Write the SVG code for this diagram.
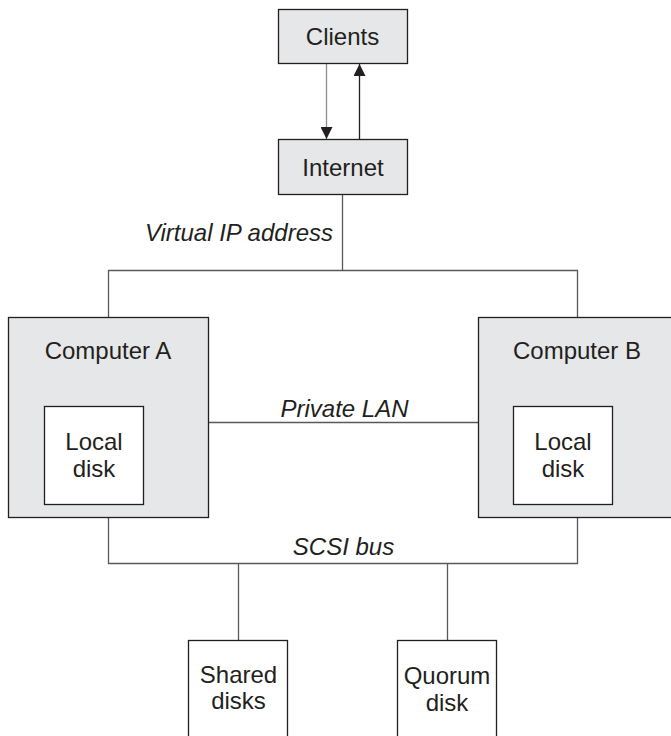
<svg xmlns="http://www.w3.org/2000/svg" width="671" height="736" viewBox="0 0 671 736">
<style>
.t{font-family:"Liberation Sans",Arial,sans-serif;font-size:24px;fill:#231f20;text-anchor:middle}
.i{font-style:italic}
.g{fill:#e6e7e8;stroke:#231f20;stroke-width:1.3}
.w{fill:#ffffff;stroke:#231f20;stroke-width:1.3}
.c{fill:none;stroke:#58595b;stroke-width:1.3}
</style>
<defs>
<marker id="ah" viewBox="0 0 12 12" refX="12" refY="6" markerWidth="12" markerHeight="12" markerUnits="userSpaceOnUse" orient="auto">
<path d="M0,0 L12,6 L0,12 Z" fill="#231f20"/>
</marker>
</defs>
<rect width="671" height="736" fill="#ffffff"/>
<g id="connectors">
<line class="c" x1="326.5" y1="63" x2="326.5" y2="139" marker-end="url(#ah)" style="stroke:#8a8c8e"/>
<line class="c" x1="359.5" y1="139" x2="359.5" y2="64" marker-end="url(#ah)" style="stroke:#231f20"/>
<polyline class="c" points="342.5,194 342.5,270.5"/>
<polyline class="c" points="108.5,317 108.5,270.5 577.5,270.5 577.5,317"/>
<line class="c" x1="208" y1="422.5" x2="478" y2="422.5"/>
<polyline class="c" points="108.5,517 108.5,563.5 577.5,563.5 577.5,517"/>
<line class="c" x1="238.5" y1="563.5" x2="238.5" y2="640"/>
<line class="c" x1="447.5" y1="563.5" x2="447.5" y2="640"/>
<text class="t i" x="333" y="241" style="text-anchor:end">Virtual IP address</text>
<text class="t i" x="344.5" y="417">Private LAN</text>
<text class="t i" x="343.5" y="555">SCSI bus</text>
</g>
<g id="clients">
<rect class="g" x="278.5" y="9.5" width="129" height="54"/>
<text class="t" x="342.5" y="45">Clients</text>
</g>
<g id="internet">
<rect class="g" x="278.5" y="139.5" width="129" height="55"/>
<text class="t" x="343" y="176">Internet</text>
</g>
<g id="computerA">
<rect class="g" x="8.5" y="317.5" width="200" height="200"/>
<text class="t" x="108" y="359">Computer A</text>
<g id="localdiskA">
<rect class="w" x="44.5" y="406.5" width="99" height="98"/>
<text class="t" x="94" y="450">Local</text>
<text class="t" x="94" y="477">disk</text>
</g>
</g>
<g id="computerB">
<rect class="g" x="478.5" y="317.5" width="194" height="200"/>
<text class="t" x="577" y="359">Computer B</text>
<g id="localdiskB">
<rect class="w" x="513.5" y="406.5" width="99" height="98"/>
<text class="t" x="563" y="450">Local</text>
<text class="t" x="563" y="477">disk</text>
</g>
</g>
<g id="shareddisks">
<rect class="w" x="188.5" y="640.5" width="99" height="100"/>
<text class="t" x="238.5" y="683">Shared</text>
<text class="t" x="238.5" y="709">disks</text>
</g>
<g id="quorumdisk">
<rect class="w" x="397.5" y="640.5" width="99" height="100"/>
<text class="t" x="447" y="684">Quorum</text>
<text class="t" x="447" y="711">disk</text>
</g>
</svg>
